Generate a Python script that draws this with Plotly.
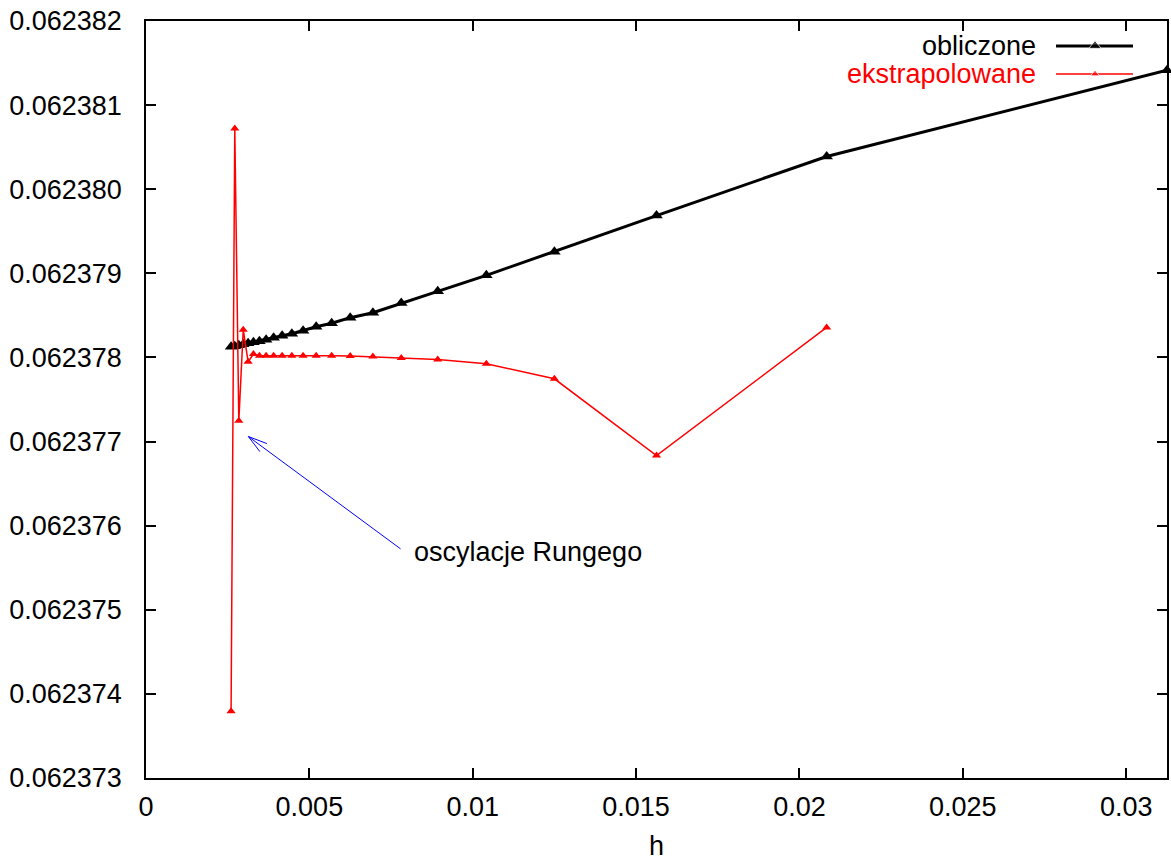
import plotly.graph_objects as go

# krok h dla wartości obliczonych (h = 1/32 ... 1/384)
h_obliczone = [0.03125, 0.0208333, 0.015625, 0.0125, 0.0104167, 0.0089286, 0.0078125,
               0.0069444, 0.00625, 0.0056818, 0.0052083, 0.0048077, 0.0044643, 0.0041667,
               0.0039063, 0.0036765, 0.0034722, 0.0032895, 0.003125, 0.0029762, 0.0028409,
               0.0027174, 0.0026042]
obliczone = [0.062381415, 0.062380389, 0.062379687, 0.062379258, 0.062378976, 0.062378786,
             0.062378648, 0.062378532, 0.062378473, 0.062378407, 0.062378365, 0.062378318,
             0.062378282, 0.062378258, 0.062378235, 0.062378211, 0.062378193, 0.062378181,
             0.062378169, 0.062378157, 0.062378145, 0.062378133, 0.062378127]

# krok h dla wartości ekstrapolowanych (h = 1/48 ... 1/384)
h_ekstrapolowane = [0.0208333, 0.015625, 0.0125, 0.0104167, 0.0089286, 0.0078125,
                    0.0069444, 0.00625, 0.0056818, 0.0052083, 0.0048077, 0.0044643, 0.0041667,
                    0.0039063, 0.0036765, 0.0034722, 0.0032895, 0.003125, 0.0029762, 0.0028409,
                    0.0027174, 0.0026042]
ekstrapolowane = [0.062378357, 0.062376833, 0.062377746, 0.062377925, 0.062377976, 0.062377993,
                  0.062378012, 0.062378018, 0.062378020, 0.062378020, 0.062378020, 0.062378020,
                  0.062378020, 0.062378020, 0.062378020, 0.062378020, 0.062378040, 0.062377949,
                  0.062378330, 0.062377246, 0.062380723, 0.062373794]

x_ticks = [0, 0.005, 0.01, 0.015, 0.02, 0.025, 0.03]
x_ticktext = ["0", "0.005", "0.01", "0.015", "0.02", "0.025", "0.03"]
y_ticks = [0.062373, 0.062374, 0.062375, 0.062376, 0.062377, 0.062378, 0.062379,
           0.062380, 0.062381, 0.062382]
y_ticktext = ["0.062373", "0.062374", "0.062375", "0.062376", "0.062377", "0.062378",
              "0.062379", "0.062380", "0.062381", "0.062382"]

series_names = ["obliczone", "ekstrapolowane"]
x_title = "h"
annotation_text = "oscylacje Rungego"
arrow_head = (0.003132, 0.06237706)
arrow_tail = (0.007838, 0.062375711)
label_pos = (0.00813, 0.06237569)

FONT = "Liberation Sans, Arial, Helvetica, sans-serif"
FS = 27

fig = go.Figure()

fig.add_trace(go.Scatter(
    x=h_obliczone, y=obliczone, mode="lines+markers", name=series_names[0],
    line=dict(color="black", width=3),
    marker=dict(symbol="triangle-up", size=11, color="black"),
    cliponaxis=False, showlegend=False))

fig.add_trace(go.Scatter(
    x=h_ekstrapolowane, y=ekstrapolowane, mode="lines+markers", name=series_names[1],
    line=dict(color="red", width=1.5),
    marker=dict(symbol="triangle-up", size=8, color="red"),
    cliponaxis=False, showlegend=False))

# legend keys (gnuplot style: text on the left, sample on the right)
key_x = [0.8913, 0.9295, 0.9667]
for yk, col, lw, ms in [(0.967, "black", 3, 11), (0.930, "red", 1.5, 8)]:
    fig.add_trace(go.Scatter(
        x=key_x, y=[yk, yk, yk], xaxis="x2", yaxis="y2", mode="lines+markers",
        line=dict(color=col, width=lw),
        marker=dict(symbol="triangle-up", size=[0, ms, 0], color=col),
        showlegend=False, hoverinfo="skip", cliponaxis=False))

fig.add_annotation(x=0.8737, y=0.967, xref="paper", yref="paper", text=series_names[0],
                   showarrow=False, xanchor="right", yanchor="middle",
                   font=dict(family=FONT, size=FS, color="black"))
fig.add_annotation(x=0.8737, y=0.930, xref="paper", yref="paper", text=series_names[1],
                   showarrow=False, xanchor="right", yanchor="middle",
                   font=dict(family=FONT, size=FS, color="red"))

# x axis title
fig.add_annotation(x=0.5, y=-0.0898, xref="paper", yref="paper", text=x_title,
                   showarrow=False, xanchor="center", yanchor="middle",
                   font=dict(family=FONT, size=FS, color="black"))

# arrow: shaft
fig.add_annotation(x=arrow_head[0], y=arrow_head[1], xref="x", yref="y",
                   ax=arrow_tail[0], ay=arrow_tail[1], axref="x", ayref="y",
                   text="", showarrow=True, arrowhead=0, arrowwidth=1, arrowcolor="blue")
# arrow: open head barbs
for dx, dy in [(20.0, 7.6), (12.7, 16.6)]:
    fig.add_annotation(x=arrow_head[0], y=arrow_head[1], xref="x", yref="y",
                       ax=dx, ay=dy, axref="pixel", ayref="pixel",
                       text="", showarrow=True, arrowhead=0, arrowwidth=1, arrowcolor="blue")

fig.add_annotation(x=label_pos[0], y=label_pos[1], xref="x", yref="y", text=annotation_text,
                   showarrow=False, xanchor="left", yanchor="middle",
                   font=dict(family=FONT, size=FS, color="black"))

axis_common = dict(showline=True, linecolor="black", linewidth=1.5, mirror="ticks",
                   ticks="inside", ticklen=10, tickwidth=1.5, tickcolor="black",
                   showgrid=False, zeroline=False, automargin=False,
                   tickfont=dict(family=FONT, size=FS, color="black"))

fig.update_layout(
    width=1171, height=860,
    margin=dict(l=146, r=4, t=21, b=82),
    paper_bgcolor="white", plot_bgcolor="white",
    font=dict(family=FONT, size=FS, color="black"),
    showlegend=False,
    xaxis=dict(range=[0, 0.03125], tickmode="array", tickvals=x_ticks, ticktext=x_ticktext,
               ticklabelstandoff=4, **axis_common),
    yaxis=dict(range=[0.062373, 0.062382], tickmode="array", tickvals=y_ticks,
               ticktext=y_ticktext, ticklabelstandoff=17, **axis_common),
    xaxis2=dict(range=[0, 1], overlaying="x", visible=False, anchor="y2"),
    yaxis2=dict(range=[0, 1], overlaying="y", visible=False, anchor="x2"),
)

# remove the default 8 px page margin so the figure fills the window exactly
fig.write_html("out.html",
               config={"displayModeBar": False},
               post_script="document.body.style.margin='0px';document.body.style.overflow='hidden';")
